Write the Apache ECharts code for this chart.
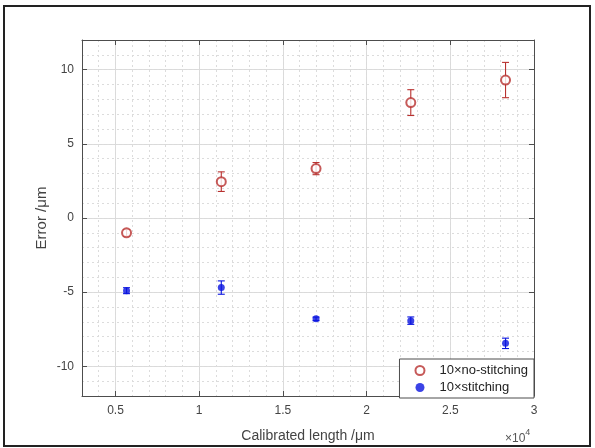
<!DOCTYPE html>
<html>
<head>
<meta charset="utf-8">
<script src="https://cdn.jsdelivr.net/npm/echarts@6/dist/echarts.min.js"></script>
<style>
  html, body { margin: 0; padding: 0; background: #fff; }
  #main { width: 595px; height: 448px; }
</style>
</head>
<body>
<div id="main"></div>
<script>
// calibrated length (um) and measured error (um)
var xVals = [5660, 11320, 16980, 22640, 28300];
var noStitchMean = [-1.0, 2.45, 3.33, 7.78, 9.3];
var noStitchErr = [0.22, 0.66, 0.41, 0.87, 1.19];
var stitchMean = [-4.9, -4.69, -6.8, -6.92, -8.45];
var stitchErr = [0.2, 0.45, 0.12, 0.25, 0.35];
var xTicks = [5000, 10000, 15000, 20000, 25000, 30000];
var yTicks = [-10, -5, 0, 5, 10];

var red = "#b8312f";
var blue = "#0a14e0";
var boxColor = "#4d4d4d";
var font = "Liberation Sans, Arial, sans-serif";

var chart = echarts.init(document.getElementById("main"));

function errorBar(means, errs, color) {
  return {
    type: "custom",
    xAxisIndex: 0,
    yAxisIndex: 0,
    silent: true,
    z: 3,
    encode: { x: 0, y: [1, 2] },
    data: xVals.map(function (x, i) {
      return [x, means[i] - errs[i], means[i] + errs[i]];
    }),
    renderItem: function (params, api) {
      var lo = api.coord([api.value(0), api.value(1)]);
      var hi = api.coord([api.value(0), api.value(2)]);
      var w = 3.5;
      var st = { stroke: color, lineWidth: 1.1 };
      return {
        type: "group",
        children: [
          { type: "line", shape: { x1: lo[0], y1: lo[1], x2: hi[0], y2: hi[1] }, style: st },
          { type: "line", shape: { x1: lo[0] - w, y1: lo[1], x2: lo[0] + w, y2: lo[1] }, style: st },
          { type: "line", shape: { x1: hi[0] - w, y1: hi[1], x2: hi[0] + w, y2: hi[1] }, style: st },
        ],
      };
    },
  };
}

var option = {
  backgroundColor: "#fff",
  animation: false,
  textStyle: { fontFamily: font },
  grid: { left: 82, top: 40, right: 61, bottom: 50 },
  graphic: [
    {
      type: "rect",
      shape: { x: 4, y: 6, width: 586, height: 440 },
      style: { fill: "none", stroke: "#222", lineWidth: 2 },
      silent: true,
    },
    {
      type: "text",
      left: 505,
      top: 428,
      style: {
        text: "{a|×10}{b|4}",
        rich: {
          a: { fontSize: 12, fill: "#555", fontFamily: font, verticalAlign: "bottom" },
          b: { fontSize: 9, fill: "#555", fontFamily: font, padding: [0, 0, 8, 0] },
        },
      },
    },
  ],
  legend: {
    right: 61,
    bottom: 50,
    orient: "vertical",
    backgroundColor: "#fff",
    borderColor: boxColor,
    borderWidth: 1,
    padding: [5, 6, 4, 15],
    itemGap: 4,
    itemWidth: 9,
    itemHeight: 9,
    textStyle: { fontSize: 13, color: "#222", fontFamily: font, padding: [0, 0, 0, 10] },
    data: ["10×no-stitching", "10×stitching"],
  },
  xAxis: [
    {
      type: "value",
      position: "bottom",
      min: 3000,
      max: 30000,
      name: "Calibrated length /μm",
      nameLocation: "middle",
      nameGap: 33,
      nameMoveOverlap: false,
      nameTextStyle: { fontSize: 14, color: "#444", fontFamily: font },
      axisLine: { show: true, onZero: false, lineStyle: { color: boxColor, width: 1 } },
      axisTick: { show: true, inside: true, length: 5, customValues: xTicks, lineStyle: { color: boxColor } },
      axisLabel: {
        customValues: xTicks,
        margin: 9,
        fontSize: 12,
        color: "#444",
        formatter: function (v) { return String(v / 10000); },
      },
      splitLine: { show: true, lineStyle: { color: "#dadada", width: 1 } },
    },
    {
      type: "value",
      position: "bottom",
      min: 3000,
      max: 30000,
      interval: 1000,
      axisLine: { show: false },
      axisTick: { show: false },
      axisLabel: { show: false },
      splitLine: { show: true, lineStyle: { color: "#dcdcdc", type: [2, 3], width: 1 } },
    },
    {
      type: "value",
      position: "top",
      min: 3000,
      max: 30000,
      axisLine: { show: true, onZero: false, lineStyle: { color: boxColor, width: 1 } },
      axisTick: { show: true, inside: true, length: 5, customValues: xTicks, lineStyle: { color: boxColor } },
      axisLabel: { show: false },
      splitLine: { show: false },
    },
  ],
  yAxis: [
    {
      type: "value",
      position: "left",
      min: -12,
      max: 12,
      name: "Error /μm",
      nameLocation: "middle",
      nameGap: 33,
      nameMoveOverlap: false,
      nameTextStyle: { fontSize: 15, color: "#444", fontFamily: font },
      axisLine: { show: true, onZero: false, lineStyle: { color: boxColor, width: 1 } },
      axisTick: { show: true, inside: true, length: 5, customValues: yTicks, lineStyle: { color: boxColor } },
      axisLabel: { customValues: yTicks, margin: 8, fontSize: 12, color: "#444" },
      splitLine: { show: true, lineStyle: { color: "#dadada", width: 1 } },
    },
    {
      type: "value",
      position: "left",
      min: -12,
      max: 12,
      interval: 1,
      axisLine: { show: false },
      axisTick: { show: false },
      axisLabel: { show: false },
      splitLine: { show: true, lineStyle: { color: "#dcdcdc", type: [2, 3], width: 1 } },
    },
    {
      type: "value",
      position: "right",
      min: -12,
      max: 12,
      axisLine: { show: true, onZero: false, lineStyle: { color: boxColor, width: 1 } },
      axisTick: { show: true, inside: true, length: 5, customValues: yTicks, lineStyle: { color: boxColor } },
      axisLabel: { show: false },
      splitLine: { show: false },
    },
  ],
  series: [
    errorBar(noStitchMean, noStitchErr, red),
    errorBar(stitchMean, stitchErr, blue),
    {
      name: "10×no-stitching",
      type: "scatter",
      xAxisIndex: 0,
      yAxisIndex: 0,
      symbol: "emptyCircle",
      symbolSize: 9,
      z: 4,
      itemStyle: { color: red, borderColor: red, borderWidth: 1 },
      data: xVals.map(function (x, i) { return [x, noStitchMean[i]]; }),
    },
    {
      name: "10×stitching",
      type: "scatter",
      xAxisIndex: 0,
      yAxisIndex: 0,
      symbol: "circle",
      symbolSize: 7,
      z: 4,
      itemStyle: { color: blue },
      data: xVals.map(function (x, i) { return [x, stitchMean[i]]; }),
    },
  ],
};

chart.setOption(option);
</script>
</body>
</html>
